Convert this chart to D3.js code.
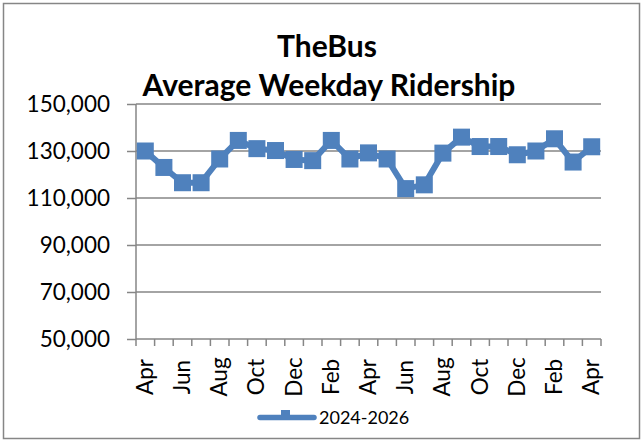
<!DOCTYPE html>
<html><head><meta charset="utf-8">
<script src="https://cdn.jsdelivr.net/npm/d3@7"></script>
<style>
html,body{margin:0;padding:0;background:#fff;}
svg{display:block;font-family:Lato, "Open Sans", sans-serif;}
</style></head>
<body>
<svg id="chart" width="644" height="443"></svg>
<script>
const months = ["Apr","May","Jun","Jul","Aug","Sep","Oct","Nov","Dec","Jan","Feb","Mar",
                "Apr","May","Jun","Jul","Aug","Sep","Oct","Nov","Dec","Jan","Feb","Mar","Apr"];
const ridership = [130000,123000,116500,116500,126600,134500,131000,130200,126400,125900,134500,126600,
                   129200,126600,114000,115600,129100,135900,131900,131900,128400,130000,135200,125300,131800];
const yTicks = [50000,70000,90000,110000,130000,150000];
const seriesName = "2024-2026";
const titleLines = ["TheBus","Average Weekday Ridership"];

const svg = d3.select("#chart");
const blue = "#4f81bd", grey = "#868686";

svg.append("rect").attr("x",3.5).attr("y",3.5).attr("width",636).attr("height",435)
  .attr("fill","#fff").attr("stroke",grey).attr("stroke-width",1.5);

const L=136, R=601, T=104, B=339;
const x = d3.scaleBand().domain(d3.range(months.length)).range([L,R]);
const y = d3.scaleLinear().domain([50000,150000]).range([B,T]);

// gridlines
svg.append("g").selectAll("line").data(yTicks.slice(1)).join("line")
  .attr("x1",L).attr("x2",R).attr("y1",d=>y(d)).attr("y2",d=>y(d))
  .attr("stroke",grey).attr("stroke-width",1.5);

// y axis
const ya = svg.append("g").attr("transform",`translate(${L},0)`)
  .call(d3.axisLeft(y).tickValues(yTicks).tickFormat(d3.format(",")).tickSize(9).tickPadding(17));
ya.select(".domain").attr("stroke",grey).attr("stroke-width",1.5).attr("d",`M0,${T}V${B}`);
ya.selectAll(".tick line").attr("stroke",grey).attr("stroke-width",1.5);
ya.selectAll(".tick text").attr("font-size",22.5).attr("fill","#000").attr("font-family","Lato");

// x axis
const xg = svg.append("g");
xg.append("line").attr("x1",L).attr("x2",R).attr("y1",B).attr("y2",B).attr("stroke",grey).attr("stroke-width",1.5);
const bounds = d3.range(months.length).map(i=>x(i)).concat([x.range()[1]]);
xg.selectAll("line.t").data(bounds).join("line").attr("class","t")
  .attr("x1",d=>d).attr("x2",d=>d).attr("y1",B).attr("y2",B+7)
  .attr("stroke",grey).attr("stroke-width",1.5);
xg.selectAll("text").data(d3.range(months.length).filter(i=>i%2===0)).join("text")
  .attr("transform",i=>`translate(${x(i)+x.bandwidth()/2+7.5},377) rotate(-90)`)
  .attr("text-anchor","middle").attr("font-size",22.5).attr("fill","#000")
  .text(i=>months[i]);

// line
const line = d3.line().x((d,i)=>x(i)+x.bandwidth()/2).y(d=>y(d));
svg.append("path").datum(ridership).attr("d",line).attr("fill","none")
  .attr("stroke",blue).attr("stroke-width",6).attr("stroke-linejoin","round");
const ms = 17;
svg.append("g").selectAll("rect").data(ridership).join("rect")
  .attr("x",(d,i)=>x(i)+x.bandwidth()/2-ms/2).attr("y",d=>y(d)-ms/2)
  .attr("width",ms).attr("height",ms).attr("fill",blue);

// title
svg.append("text").attr("x",327).attr("y",57).attr("text-anchor","middle")
  .attr("font-size",30).attr("font-weight","bold").attr("fill","#000").text(titleLines[0]);
svg.append("text").attr("x",329).attr("y",96).attr("text-anchor","middle")
  .attr("font-size",30).attr("font-weight","bold").attr("fill","#000").text(titleLines[1]);

// legend
svg.append("line").attr("x1",260).attr("x2",314).attr("y1",417.5).attr("y2",417.5)
  .attr("stroke",blue).attr("stroke-width",5.5).attr("stroke-linecap","round");
svg.append("rect").attr("x",281).attr("y",410).attr("width",9).attr("height",9).attr("fill",blue);
svg.append("text").attr("x",319).attr("y",424).attr("font-size",18).attr("fill","#000").text(seriesName);
</script>
</body></html>
